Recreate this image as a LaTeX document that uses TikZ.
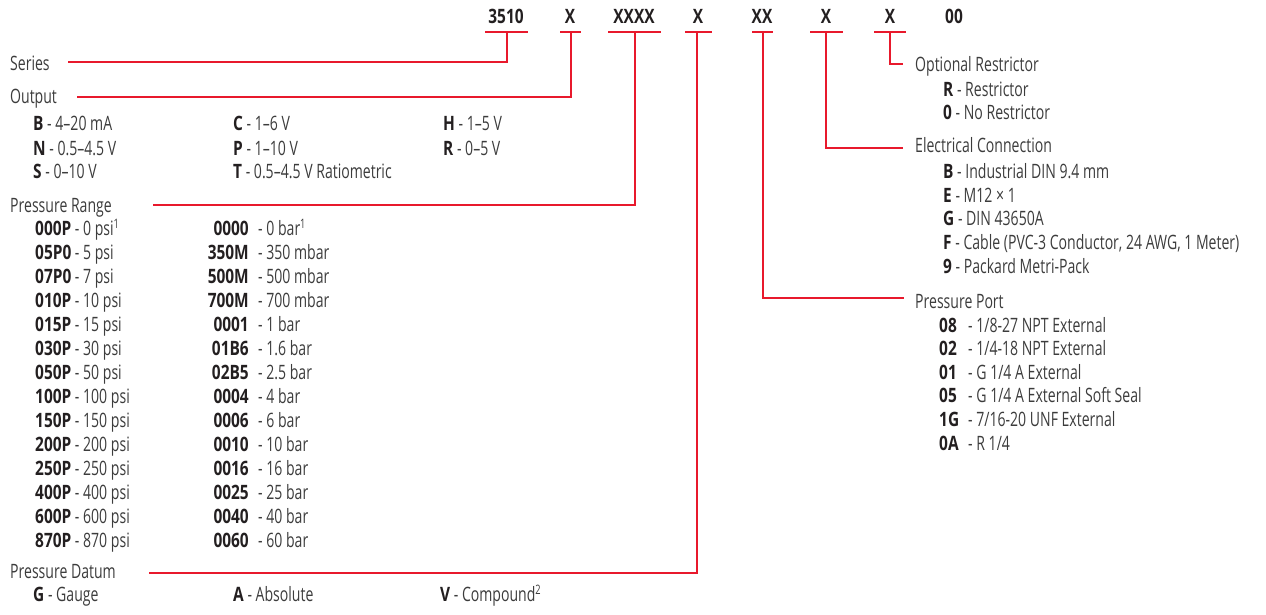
\documentclass[tikz,border=0pt]{standalone}
\usepackage{fontspec}
\setmainfont{Open Sans}[FakeStretch=0.71]
\newfontfamily\bfam{Open Sans}[FakeStretch=0.78]
\definecolor{redln}{HTML}{E8192C}
\definecolor{txt}{HTML}{3C3C3C}
\definecolor{bld}{HTML}{231F20}
\newcommand{\bk}[1]{{\bfam\bfseries\color{bld}#1}}
\newcommand{\sups}[1]{\raisebox{0.6ex}{\fontsize{13}{14}\selectfont #1}}
\tikzset{
  lbl/.style={anchor=base west,inner sep=0pt,text=txt,font=\fontsize{19.8}{22}\selectfont},
  lble/.style={lbl,anchor=base east},
  code/.style={anchor=base,inner sep=0pt,text=bld,font=\fontsize{19.8}{22}\selectfont\bfam\bfseries},
  redline/.style={draw=redln,line width=2.3pt},
}
\begin{document}
\begin{tikzpicture}[x=1pt,y=-1pt]
\useasboundingbox (0,0) rectangle (1266,615);
% codes
\node[code] (c1) at (506,24) {3510};
\node[code] (c2) at (570,24) {X};
\node[code] (c3) at (634,24) {XXXX};
\node[code] (c4) at (698,24) {X};
\node[code] (c5) at (762,24) {XX};
\node[code] (c6) at (826,24) {X};
\node[code] (c7) at (890,24) {X};
\node[code] (c8) at (954,24) {00};
% bars
\draw[redline] (485,32) -- (528,32);
\draw[redline] (560,32) -- (581,32);
\draw[redline] (608,32) -- (661,32);
\draw[redline] (685,32) -- (712,32);
\draw[redline] (752,32) -- (773,32);
\draw[redline] (810,32) -- (843,32);
\draw[redline] (874,32) -- (906,32);
% stem coordinates
\coordinate (s1) at (507,32);
\coordinate (s2) at (571,32);
\coordinate (s3) at (635,32);
\coordinate (s4) at (697,32);
\coordinate (s5) at (763,32);
\coordinate (s6) at (826,32);
\coordinate (s7) at (890,32);
\coordinate (e1) at (68,62);
\coordinate (e2) at (77,97);
\coordinate (e3) at (153,205);
\coordinate (e4) at (149,573);
\coordinate (e5) at (904,298);
\coordinate (e6) at (903,148);
\coordinate (e7) at (903,64);
\draw[redline] (s1) |- (e1);
\draw[redline] (s2) |- (e2);
\draw[redline] (s3) |- (e3);
\draw[redline] (s4) |- (e4);
\draw[redline] (s5) |- (e5);
\draw[redline] (s6) |- (e6);
\draw[redline] (s7) |- (e7);
% Series / Output
\node[lbl] (series) at (10,71) {Series};
\node[lbl] (output) at (10,104) {Output};
\node[lbl] (oB) at (33,131) {\bk{B} - 4–20 mA};
\node[lbl] (oN) at (33,155) {\bk{N} - 0.5–4.5 V};
\node[lbl] (oS) at (33,178) {\bk{S} - 0–10 V};
\node[lbl] (oC) at (233,131) {\bk{C} - 1–6 V};
\node[lbl] (oP) at (233,155) {\bk{P} - 1–10 V};
\node[lbl] (oT) at (233,178) {\bk{T} - 0.5–4.5 V Ratiometric};
\node[lbl] (oH) at (443,131) {\bk{H} - 1–5 V};
\node[lbl] (oR) at (443,155) {\bk{R} - 0–5 V};
% Pressure range
\node[lbl] (prange) at (10,212) {Pressure Range};
\foreach \c/\d [count=\i from 0] in {000P/{0 psi\sups{1}},05P0/{5 psi},07P0/{7 psi},010P/{10 psi},015P/{15 psi},030P/{30 psi},050P/{50 psi},100P/{100 psi},150P/{150 psi},200P/{200 psi},250P/{250 psi},400P/{400 psi},600P/{600 psi},870P/{870 psi}}{
  \node[lbl] (pa\i) at (35,235+24*\i) {\bk{\c} - \d};
}
\foreach \c/\d [count=\i from 0] in {0000/{0 bar\sups{1}},350M/{350 mbar},500M/{500 mbar},700M/{700 mbar},0001/{1 bar},01B6/{1.6 bar},02B5/{2.5 bar},0004/{4 bar},0006/{6 bar},0010/{10 bar},0016/{16 bar},0025/{25 bar},0040/{40 bar},0060/{60 bar}}{
  \node[lble] (pbc\i) at (249,235+24*\i) {\bk{\c}};
  \node[lbl] (pbd\i) at (258,235+24*\i) {- \d};
}
% Pressure datum
\node[lbl] (pdatum) at (10,578) {Pressure Datum};
\node[lbl] (dG) at (33,601) {\bk{G} - Gauge};
\node[lbl] (dA) at (233,601) {\bk{A} - Absolute};
\node[lbl] (dV) at (440,601) {\bk{V} - Compound\sups{2}};
% Optional restrictor
\node[lbl] (optr) at (915,72) {Optional Restrictor};
\node[lbl] (rR) at (943,97) {\bk{R} - Restrictor};
\node[lbl] (r0) at (943,120) {\bk{0} - No Restrictor};
% Electrical connection
\node[lbl] (elec) at (915,153) {Electrical Connection};
\node[lbl] (eB) at (943,178) {\bk{B} - Industrial DIN 9.4 mm};
\node[lbl] (eE) at (943,202) {\bk{E} - M12 × 1};
\node[lbl] (eG) at (943,225) {\bk{G} - DIN 43650A};
\node[lbl] (eF) at (943,249) {\bk{F} - Cable (PVC-3 Conductor, 24 AWG, 1 Meter)};
\node[lbl] (e9) at (943,273) {\bk{9} - Packard Metri-Pack};
% Pressure port
\node[lbl] (pport) at (915,308) {Pressure Port};
\foreach \c/\d [count=\i from 0] in {08/{1/8-27 NPT External},02/{1/4-18 NPT External},01/{G 1/4 A External},05/{G 1/4 A External Soft Seal},1G/{7/16-20 UNF External},0A/{R 1/4}}{
  \node[lbl] (ppc\i) at (939,332+23.6*\i) {\bk{\c}};
  \node[lbl] (ppd\i) at (968,332+23.6*\i) {- \d};
}
\end{tikzpicture}
\end{document}
